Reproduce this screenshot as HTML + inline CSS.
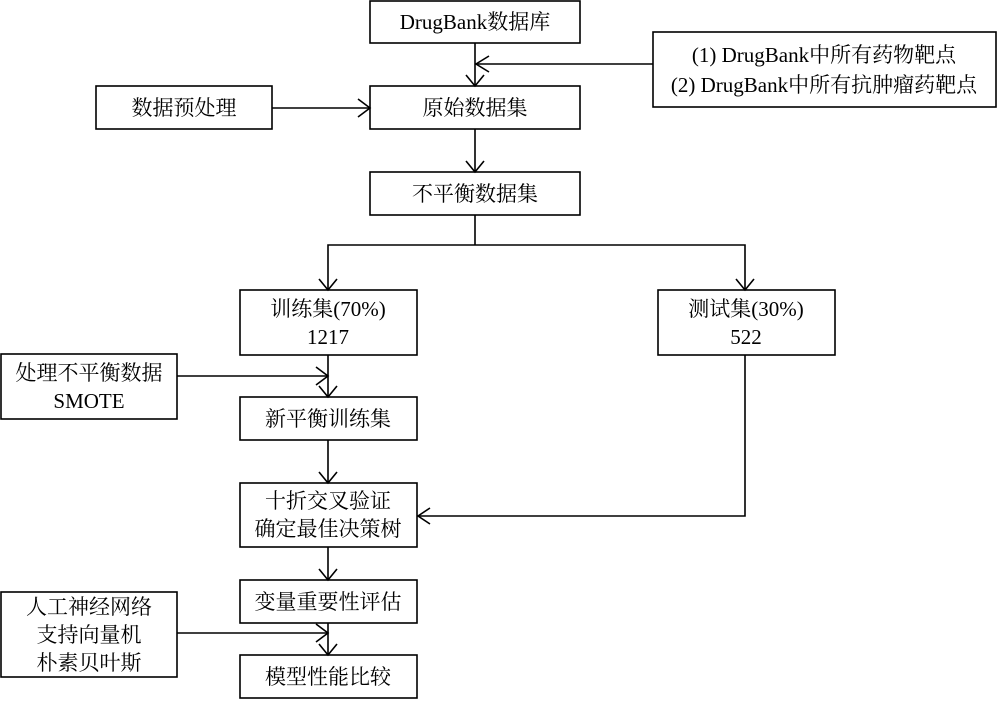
<!DOCTYPE html>
<html><head><meta charset="utf-8"><style>
html,body{margin:0;padding:0;background:#fff;}
svg text{font-family:"Liberation Serif","Noto Serif CJK SC","Noto Sans CJK SC",serif;font-size:21px;fill:#000;}
</style></head><body>
<svg width="1000" height="699" viewBox="0 0 1000 699" xmlns="http://www.w3.org/2000/svg">
<g fill="none" stroke="#000" stroke-width="1.6">
<rect x="370" y="1" width="210" height="42"/>
<rect x="653" y="32" width="343" height="75"/>
<rect x="370" y="86" width="210" height="43"/>
<rect x="96" y="86" width="176" height="43"/>
<rect x="370" y="172" width="210" height="43"/>
<rect x="240" y="290" width="177" height="65"/>
<rect x="658" y="290" width="177" height="65"/>
<rect x="1" y="354" width="176" height="65"/>
<rect x="240" y="397" width="177" height="43"/>
<rect x="240" y="483" width="177" height="64"/>
<rect x="240" y="580" width="177" height="43"/>
<rect x="1" y="592" width="176" height="85"/>
<rect x="240" y="655" width="177" height="43"/>
<path d="M475 43V86M653 64H475M272 108H370M475 129V172M475 215V245H328V290M328 245H745V290"/>
<path d="M177 376H328M328 355V397M328 440V483M745 355V516H417M328 547V580M177 633H328M328 623V655"/>
<path d="M466 75L475 86L484 75M489 56L476 64L489 72M358 99L370 108L358 117M466 161L475 172L484 161"/>
<path d="M319 279L328 290L337 279M736 279L745 290L754 279"/>
<path d="M316 367L328 376L316 385M319 386L328 397L337 386M319 472L328 483L337 472M430 508L418 516L430 524"/>
<path d="M319 569L328 580L337 569M316 624L328 633L316 642M319 644L328 655L337 644"/>
</g>
<g text-anchor="middle">
<text x="475" y="29">DrugBank数据库</text>
<text x="824" y="62">(1) DrugBank中所有药物靶点</text>
<text x="824" y="92">(2) DrugBank中所有抗肿瘤药靶点</text>
<text x="475" y="115">原始数据集</text>
<text x="184" y="115">数据预处理</text>
<text x="475" y="201">不平衡数据集</text>
<text x="328" y="316">训练集(70%)</text>
<text x="328" y="344">1217</text>
<text x="746" y="316">测试集(30%)</text>
<text x="746" y="344">522</text>
<text x="89" y="380">处理不平衡数据</text>
<text x="89" y="408">SMOTE</text>
<text x="328" y="426">新平衡训练集</text>
<text x="328" y="508">十折交叉验证</text>
<text x="328" y="536">确定最佳决策树</text>
<text x="328" y="609">变量重要性评估</text>
<text x="89" y="614">人工神经网络</text>
<text x="89" y="642">支持向量机</text>
<text x="89" y="670">朴素贝叶斯</text>
<text x="328" y="684">模型性能比较</text>
</g>
</svg>
</body></html>
